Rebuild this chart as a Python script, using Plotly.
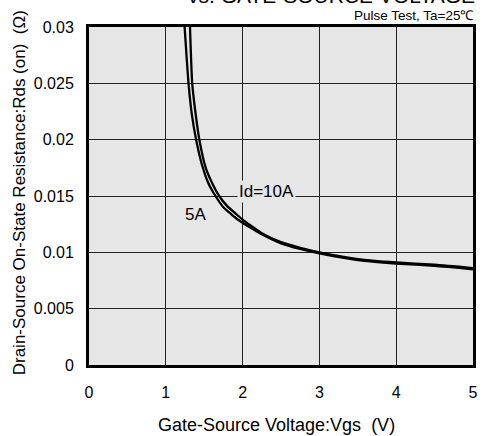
import plotly.graph_objects as go

# Gate-source voltage (V) and on-state resistance (ohm) for each drain current
vgs_10a = [1.315, 1.344, 1.39, 1.437, 1.52, 1.60, 1.695, 1.80, 1.90, 2.0, 2.1, 2.25, 2.5, 2.75, 3.0, 3.5, 4.0, 4.5, 5.0]
rds_10a = [0.030, 0.025, 0.0222, 0.020, 0.0175, 0.0162, 0.0150, 0.0141, 0.0135, 0.0129, 0.0124, 0.0117, 0.0109, 0.0104, 0.0100, 0.0094, 0.0091, 0.0089, 0.0086]

vgs_5a = [1.245, 1.296, 1.34, 1.395, 1.47, 1.55, 1.647, 1.75, 1.85, 1.96, 2.1, 2.25, 2.5, 2.75, 3.0, 3.5, 4.0, 4.5, 5.0]
rds_5a = [0.030, 0.025, 0.0222, 0.020, 0.0178, 0.0162, 0.0150, 0.0140, 0.0134, 0.0128, 0.0122, 0.0116, 0.0108, 0.0103, 0.0099, 0.0093, 0.0090, 0.0088, 0.0085]

x_ticks = [0, 1, 2, 3, 4, 5]
y_ticks = [0, 0.005, 0.01, 0.015, 0.02, 0.025, 0.03]
y_tick_text = ["0", "0.005", "0.01", "0.015", "0.02", "0.025", "0.03"]

FONT = "Liberation Sans, Arial, Helvetica, sans-serif"

fig = go.Figure()
for vx, ry, name in [(vgs_10a, rds_10a, "Id=10A"), (vgs_5a, rds_5a, "5A")]:
    fig.add_trace(go.Scatter(
        x=vx, y=ry, mode="lines", name=name,
        line=dict(color="black", width=2.3, shape="spline", smoothing=0.6),
        showlegend=False, hoverinfo="skip",
    ))

axis_common = dict(
    showline=True, mirror=True, linecolor="black", linewidth=3,
    showgrid=True, gridcolor="#222222", gridwidth=1,
    zeroline=False, ticks="",
    tickfont=dict(family=FONT, size=16, color="black"),
)

fig.update_layout(
    width=485, height=436,
    margin=dict(l=89, r=7, t=27, b=71),
    paper_bgcolor="white",
    plot_bgcolor="#e6e6e6",
    font=dict(family=FONT, color="black"),
    xaxis=dict(range=[0, 5], tickvals=x_ticks, ticktext=[str(v) for v in x_ticks],
               ticklabelstandoff=11, **axis_common),
    yaxis=dict(range=[0, 0.03], tickvals=y_ticks, ticktext=y_tick_text,
               ticklabelstandoff=9, **axis_common),
)

annotations = [
    dict(x=2.306, y=0.0154, xref="x", yref="y", text="Id=10A", showarrow=False,
         font=dict(size=17), bgcolor="#e6e6e6", borderpad=1),
    dict(x=1.382, y=0.0134, xref="x", yref="y", text="5A", showarrow=False,
         font=dict(size=17)),
    dict(x=1, y=1.0346, xref="paper", yref="paper", xanchor="right", yanchor="middle",
         xshift=3, text="Pulse Test, Ta=25\u2103", showarrow=False, font=dict(size=13.5)),
    dict(x=1, y=1.052, xref="paper", yref="paper", xanchor="right", yanchor="bottom",
         xshift=4, text="vs. GATE-SOURCE VOLTAGE", showarrow=False, font=dict(size=21)),
    dict(x=-0.1823, y=0.511, xref="paper", yref="paper", xanchor="center", yanchor="middle",
         textangle=-90, text="Drain-Source On-State Resistance:Rds (on)\u00a0 (\u03a9)",
         showarrow=False, font=dict(size=17)),
    dict(x=0.487, y=-0.177, xref="paper", yref="paper", xanchor="center", yanchor="middle",
         text="Gate-Source Voltage:Vgs\u00a0 (V)", showarrow=False, font=dict(size=18)),
]
fig.update_layout(annotations=annotations)

fig.write_html("out.html")
